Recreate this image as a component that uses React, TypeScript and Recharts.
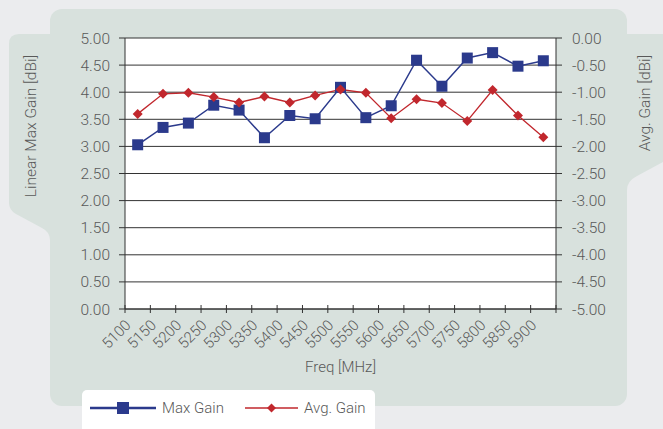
import React from 'react';
import { LineChart, Line, XAxis, YAxis, CartesianGrid, Legend } from 'recharts';

const freqs = ['5100', '5150', '5200', '5250', '5300', '5350', '5400', '5450', '5500', '5550', '5600', '5650', '5700', '5750', '5800', '5850', '5900'];
const maxGain = [3.03, 3.35, 3.43, 3.76, 3.67, 3.16, 3.57, 3.51, 4.09, 3.53, 3.75, 4.59, 4.11, 4.63, 4.73, 4.48, 4.58];
const avgGain = [-1.40, -1.03, -1.01, -1.09, -1.19, -1.08, -1.19, -1.06, -0.95, -1.01, -1.48, -1.13, -1.20, -1.53, -0.96, -1.43, -1.83];
const leftTicks = [0, 0.5, 1, 1.5, 2, 2.5, 3, 3.5, 4, 4.5, 5];
const rightTicks = [-5, -4.5, -4, -3.5, -3, -2.5, -2, -1.5, -1, -0.5, 0];

const data = freqs.map((f, i) => ({ freq: f, max: maxGain[i], avg: avgGain[i] }));

const NAVY = '#2b3a8c';
const RED = '#c1272d';
const TEXT = '#595959';
const FONT = 'Roboto, "Liberation Sans", sans-serif';
const AXIS = '#333';

const SquareDot = (props: any) => {
  const { cx, cy } = props;
  if (cx == null || cy == null) return null;
  return <rect x={cx - 5.5} y={cy - 5.5} width={11} height={11} fill={NAVY} />;
};

const DiamondDot = (props: any) => {
  const { cx, cy } = props;
  if (cx == null || cy == null) return null;
  const r = 5;
  return <path d={`M${cx} ${cy - r}L${cx + r} ${cy}L${cx} ${cy + r}L${cx - r} ${cy}Z`} fill={RED} />;
};

const XTick = (props: any) => {
  const { x, y, payload, index, visibleTicksCount } = props;
  const half = payload && payload.offset ? payload.offset : 12.65;
  const tx = x - 6;
  const ty = y + 17;
  return (
    <g>
      <line x1={x - half} x2={x - half} y1={y - 4} y2={y + 4} stroke={AXIS} strokeWidth={1} />
      {index === visibleTicksCount - 1 && (
        <line x1={x + half} x2={x + half} y1={y - 4} y2={y + 4} stroke={AXIS} strokeWidth={1} />
      )}
      <text
        x={tx}
        y={ty}
        transform={`rotate(-45 ${tx} ${ty})`}
        textAnchor="end"
        fill={TEXT}
        fontSize={15}
        fontFamily={FONT}
        fontWeight={300}
      >
        {payload.value}
      </text>
    </g>
  );
};

const renderLegend = (props: any) => {
  const { payload } = props;
  return (
    <div
      style={{
        position: 'relative',
        width: 293,
        height: 39,
        background: '#ffffff',
        borderRadius: '5px 5px 0 0',
        fontFamily: FONT,
        fontWeight: 300,
        fontSize: 15,
        color: TEXT,
      }}
    >
      {(payload || []).map((entry: any, i: number) => {
        const isMax = entry.dataKey === 'max';
        const left = isMax ? 8 : 163;
        const lineW = isMax ? 66 : 53;
        return (
          <div key={i} style={{ position: 'absolute', left, top: 8, height: 20, display: 'flex', alignItems: 'center' }}>
            <svg width={lineW} height={20} style={{ display: 'block' }}>
              <line x1={0} x2={lineW} y1={10} y2={10} stroke={entry.color} strokeWidth={isMax ? 2.5 : 1.5} />
              {isMax ? (
                <rect x={lineW / 2 - 6} y={4} width={12} height={12} fill={entry.color} />
              ) : (
                <path d={`M${lineW / 2} 5.5L${lineW / 2 + 4.5} 10L${lineW / 2} 14.5L${lineW / 2 - 4.5} 10Z`} fill={entry.color} />
              )}
            </svg>
            <span style={{ marginLeft: 6, whiteSpace: 'nowrap', lineHeight: '20px' }}>{entry.value}</span>
          </div>
        );
      })}
    </div>
  );
};

const tickStyle = { fill: TEXT, fontSize: 15.5, fontFamily: FONT, fontWeight: 300 };

export default function App() {
  return (
    <div style={{ position: 'absolute', left: 0, top: 0, width: 663, height: 429, overflow: 'hidden', background: '#ebecee' }}>
      <svg width={663} height={429} style={{ position: 'absolute', left: 0, top: 0 }}>
        <rect x={0} y={0} width={663} height={429} fill="#ebecee" />
        <rect x={50} y={9} width={577} height={397} rx={12} ry={12} fill="#d8e1dd" />
        <path d="M50 34 L19 34 Q9 34 9 44 L9 203 Q9 210 16 214 L42 228 Q50 232 50 240 Z" fill="#d8e1dd" />
        <path d="M627 34 L663 34 L663 162 L637 176 Q627 181 627 190 Z" fill="#d8e1dd" />
      </svg>
      <div style={{ position: 'absolute', left: 0, top: 0 }}>
        <LineChart width={663} height={429} data={data} margin={{ top: 38, right: 0, bottom: 60, left: 0 }}>
          <CartesianGrid yAxisId="left" vertical={false} stroke={AXIS} strokeWidth={1} fill="#ffffff" fillOpacity={1} />
          <XAxis
            dataKey="freq"
            scale="band"
            interval={0}
            height={60}
            tickSize={0}
            tickMargin={0}
            tickLine={false}
            axisLine={{ stroke: AXIS }}
            tick={<XTick />}
            label={(p: any) => {
              const vb = p.viewBox || {};
              return (
                <text x={vb.x + vb.width / 2} y={372} textAnchor="middle" fill={TEXT} fontSize={15} fontFamily={FONT} fontWeight={300}>
                  Freq [MHz]
                </text>
              );
            }}
          />
          <YAxis
            yAxisId="left"
            domain={[0, 5]}
            ticks={leftTicks}
            interval={0}
            width={125}
            tickSize={6}
            tickMargin={9}
            tickFormatter={(v: number) => v.toFixed(2)}
            tick={tickStyle}
            axisLine={{ stroke: AXIS }}
            tickLine={{ stroke: AXIS }}
            label={(p: any) => {
              const vb = p.viewBox || {};
              const lx = vb.x + 31;
              const ly = vb.y + 88;
              return (
                <text x={lx} y={ly} transform={`rotate(-90 ${lx} ${ly})`} textAnchor="middle" dominantBaseline="central" fill={TEXT} fontSize={15.5} fontFamily={FONT} fontWeight={300}>
                  Linear Max Gain  [dBi]
                </text>
              );
            }}
          />
          <YAxis
            yAxisId="right"
            orientation="right"
            domain={[-5, 0]}
            ticks={rightTicks}
            interval={0}
            width={107}
            tickSize={6}
            tickMargin={10}
            tickFormatter={(v: number) => v.toFixed(2)}
            tick={tickStyle}
            axisLine={{ stroke: AXIS }}
            tickLine={{ stroke: AXIS }}
            label={(p: any) => {
              const vb = p.viewBox || {};
              const lx = vb.x + 89;
              const ly = vb.y + 65;
              return (
                <text x={lx} y={ly} transform={`rotate(-90 ${lx} ${ly})`} textAnchor="middle" dominantBaseline="central" fill={TEXT} fontSize={15.5} fontFamily={FONT} fontWeight={300}>
                  Avg. Gain [dBi]
                </text>
              );
            }}
          />
          <Line
            yAxisId="left"
            dataKey="max"
            name="Max Gain"
            stroke={NAVY}
            strokeWidth={1.5}
            dot={<SquareDot />}
            activeDot={false}
            isAnimationActive={false}
          />
          <Line
            yAxisId="right"
            dataKey="avg"
            name="Avg. Gain"
            stroke={RED}
            strokeWidth={1.3}
            dot={<DiamondDot />}
            activeDot={false}
            isAnimationActive={false}
          />
          <Legend
            layout="horizontal"
            verticalAlign="middle"
            align="center"
            wrapperStyle={{ left: 82, top: 390, width: 293, height: 39 }}
            content={renderLegend}
          />
        </LineChart>
      </div>
    </div>
  );
}
